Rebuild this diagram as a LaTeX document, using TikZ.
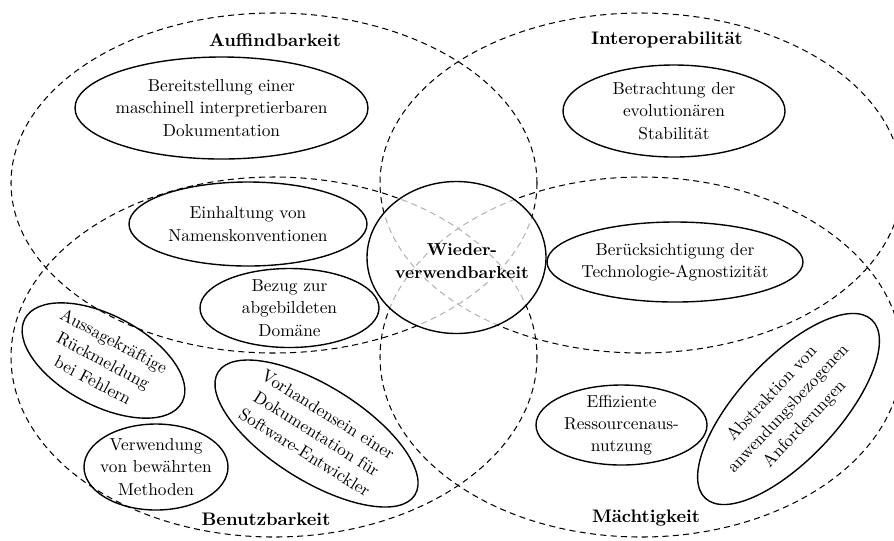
\documentclass[tikz,border=0pt]{standalone}
\usetikzlibrary{shapes.geometric}
\begin{document}
\begin{tikzpicture}[x=0.578pt, y=-0.578pt,
  area/.style={line width=0.6pt, dash pattern=on 3.5pt off 2.5pt},
  oval/.style={line width=0.8pt},
  txt/.style={align=center, inner sep=0pt, font=\fontsize{10}{12.9}\selectfont},
  heading/.style={inner sep=0pt, font=\fontsize{10.5}{13}\selectfont\bfseries}]
\useasboundingbox (0,0) rectangle (894,540);

% the four quality areas
\draw[area] (274,183) ellipse [x radius=263, y radius=170];
\draw[area] (641,183) ellipse [x radius=261, y radius=170];
\draw[area] (274,357) ellipse [x radius=263, y radius=180];
\draw[area] (641,357) ellipse [x radius=261, y radius=180];

\node[heading] (auf) at (275,40) {Auffindbarkeit};
\node[heading] (inter) at (667,40) {Interoperabilität};
\node[heading] (benutz) at (266,519) {Benutzbarkeit};
\node[heading] (macht) at (646,518) {Mächtigkeit};

% criteria
\node[txt] (bereit) at (221.5,108) {Bereitstellung einer\\maschinell interpretierbaren\\Dokumentation};
\draw[oval] (bereit.center) ellipse [x radius=146.5, y radius=51];

\node[txt] (betr) at (674,111) {Betrachtung der\\evolutionären\\Stabilität};
\draw[oval] (betr.center) ellipse [x radius=111, y radius=46];

\node[txt] (einh) at (248,224) {Einhaltung von\\Namenskonventionen};
\draw[oval] (einh.center) ellipse [x radius=119, y radius=42];

\node[txt] (bezug) at (289.5,308) {Bezug zur\\abgebildeten\\Domäne};
\draw[oval] (bezug.center) ellipse [x radius=89.5, y radius=39.5];

\node[txt] (beruck) at (675,262) {Berücksichtigung der\\Technologie-Agnostizität};
\draw[oval] (beruck.center) ellipse [x radius=128, y radius=40];

\node[txt] (effiz) at (621.5,425) {Effiziente\\Ressourcenaus-\\nutzung};
\draw[oval] (effiz.center) ellipse [x radius=85.5, y radius=40];

\node[txt, rotate=47] (abstr) at (788.5,409) {Abstraktion von\\anwendungsbezogenen\\Anforderungen};
\draw[oval, rotate around={47:(abstr.center)}] (abstr.center) ellipse [x radius=122, y radius=50];

\node[txt, rotate=-28] (aussage) at (103.5,360.5) {Aussagekräftige\\Rückmeldung\\bei Fehlern};
\draw[oval, rotate around={-28:(aussage.center)}] (aussage.center) ellipse [x radius=89, y radius=45];

\node[txt] (verw) at (156,467) {Verwendung\\von bewährten\\Methoden};
\draw[oval] (verw.center) ellipse [x radius=72, y radius=43];

\node[txt, rotate=-32] (vorh) at (316.5,433.5) {Vorhandensein einer\\Dokumentation für\\Software-Entwickler};
\draw[oval, rotate around={-32:(vorh.center)}] (vorh.center) ellipse [x radius=116, y radius=47.5];

% central goal
\fill[white, opacity=0.7] (456.5,257.5) ellipse [x radius=89.5, y radius=76];
\draw[oval] (456.5,257.5) ellipse [x radius=89.5, y radius=76];
\node[heading, align=center, font=\fontsize{10}{13.8}\selectfont\bfseries] (wv) at (462,261) {Wieder-\\verwendbarkeit};
\end{tikzpicture}
\end{document}
